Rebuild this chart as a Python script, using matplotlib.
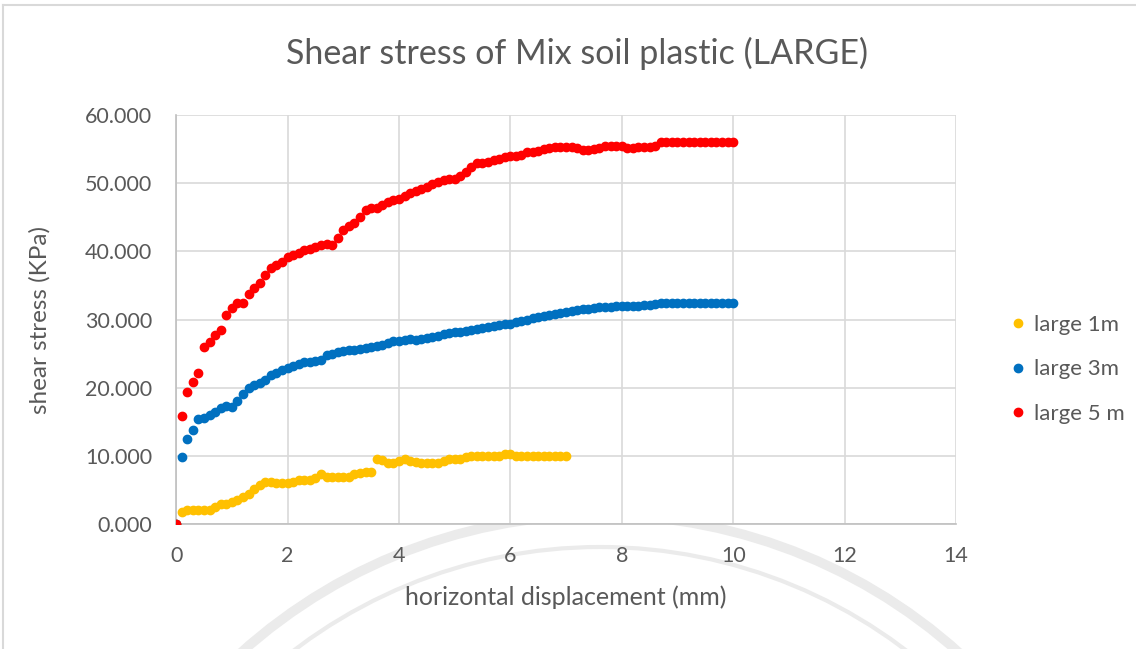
#Shear stress of Mix soil plastic (LARGE)
#direct shear test, 0.1 mm steps

import numpy as np
import matplotlib.pyplot as plt
from matplotlib.patches import Ellipse
from matplotlib.lines import Line2D

plt.rcParams['font.family'] = ['Lato', 'DejaVu Sans']

desloc_5m = np.round(np.arange(0, 10.01, 0.1), 1)
desloc_3m = np.round(np.arange(0, 10.01, 0.1), 1)
desloc_1m = np.round(np.arange(0, 7.01, 0.1), 1)

tensao_5m = [0, 15.9, 19.3, 20.8, 22.1, 25.9, 26.7, 27.7, 28.4, 30.6,
             31.7, 32.4, 32.4, 33.7, 34.6, 35.4, 36.5, 37.5, 38.0, 38.5,
             39.1, 39.4, 39.8, 40.2, 40.3, 40.7, 40.9, 41.1, 41.0, 41.9,
             43.2, 43.7, 44.2, 45.1, 46.0, 46.3, 46.4, 46.8, 47.3, 47.6,
             47.7, 48.1, 48.5, 48.8, 49.2, 49.4, 49.9, 50.2, 50.4, 50.6,
             50.6, 51.0, 51.6, 52.3, 52.9, 53.0, 53.1, 53.4, 53.6, 53.9,
             54.0, 54.0, 54.2, 54.5, 54.6, 54.7, 55.0, 55.2, 55.3, 55.3,
             55.3, 55.3, 55.1, 54.9, 54.9, 55.0, 55.2, 55.4, 55.4, 55.4,
             55.4, 55.2, 55.1, 55.3, 55.3, 55.3, 55.5, 56.1, 56.1, 56.1,
             56.1, 56.1, 56.1, 56.1, 56.1, 56.1, 56.1, 56.1, 56.1, 56.1,
             56.1]

tensao_3m = [0, 9.9, 12.5, 13.8, 15.4, 15.5, 16.0, 16.5, 17.0, 17.3,
             17.2, 18.1, 19.1, 19.9, 20.4, 20.7, 21.1, 21.8, 22.2, 22.6,
             22.9, 23.2, 23.5, 23.8, 23.8, 23.9, 24.1, 24.8, 25.0, 25.2,
             25.4, 25.5, 25.5, 25.6, 25.8, 26.0, 26.1, 26.3, 26.5, 26.8,
             26.9, 27.0, 27.1, 27.0, 27.1, 27.3, 27.5, 27.6, 27.8, 28.0,
             28.1, 28.2, 28.3, 28.4, 28.6, 28.8, 28.9, 29.1, 29.2, 29.3,
             29.4, 29.6, 29.8, 30.0, 30.2, 30.3, 30.5, 30.7, 30.8, 31.0,
             31.1, 31.3, 31.4, 31.5, 31.6, 31.7, 31.8, 31.9, 31.9, 32.0,
             32.0, 32.0, 32.0, 32.0, 32.1, 32.2, 32.3, 32.4, 32.4, 32.4,
             32.4, 32.4, 32.4, 32.4, 32.4, 32.4, 32.4, 32.4, 32.4, 32.4,
             32.4]

tensao_1m = [0, 1.7, 2.05, 2.1, 2.1, 2.1, 2.1, 2.5, 2.9, 3.0,
             3.2, 3.5, 3.9, 4.4, 5.2, 5.7, 6.1, 6.1, 6.0, 6.0,
             6.0, 6.1, 6.4, 6.45, 6.45, 6.8, 7.3, 6.9, 6.85, 6.85,
             6.85, 6.9, 7.3, 7.5, 7.6, 7.7, 9.5, 9.4, 8.9, 9.0,
             9.2, 9.5, 9.3, 9.1, 8.9, 8.9, 8.9, 8.9, 9.2, 9.5,
             9.5, 9.6, 9.8, 10.0, 10.0, 10.0, 10.0, 10.0, 10.0, 10.3,
             10.2, 10.0, 10.0, 10.0, 10.0, 10.0, 10.0, 10.0, 10.0, 10.0,
             10.0]

nomes = ["large 1m", "large 3m", "large 5 m"]
cores = ["#FFC000", "#0070C0", "#FF0000"]

titulo = "Shear stress of Mix soil plastic (LARGE)"
eixox = "horizontal displacement (mm)"
eixoy = "shear stress (KPa)"
cinza = "#595959"

fig = plt.figure(figsize=(11.36, 6.49), dpi=100)
ax = fig.add_axes([0.155, 0.1926, 0.6866, 0.6302])

ax.plot(desloc_1m, tensao_1m, "o", ms=6, color=cores[0], zorder=3)
ax.plot(desloc_3m, tensao_3m, "o", ms=6, color=cores[1], zorder=3)
ax.plot(desloc_5m, tensao_5m, "o", ms=6, color=cores[2], zorder=3)

ax.set_xlim(0, 14)
ax.set_ylim(0, 60)
ax.set_xticks(range(0, 15, 2))
ax.set_yticks(range(0, 61, 10))
ax.set_yticklabels(["%.3f" % v for v in range(0, 61, 10)])
ax.grid(True, color="#d9d9d9", linewidth=1.2)
ax.set_axisbelow(True)
ax.tick_params(length=0, labelsize=15.5, colors=cinza)
ax.tick_params(axis="y", pad=17)
ax.tick_params(axis="x", pad=16)
for lado in ["top", "right"]:
    ax.spines[lado].set_visible(False)
for lado in ["left", "bottom"]:
    ax.spines[lado].set_color("#bfbfbf")
    ax.spines[lado].set_linewidth(1.2)

ax.set_xlabel(eixox, fontsize=18, color=cinza, labelpad=14)
ax.set_ylabel(eixoy, fontsize=17.5, color=cinza, labelpad=25)
fig.text(0.508, 0.918, titulo, ha="center", va="center", fontsize=24.5, color=cinza)

marcas = [Line2D([], [], marker="o", ls="", ms=6, color=c) for c in cores]
fig.legend(marcas, nomes, loc="center left", bbox_to_anchor=(0.867, 0.431),
           frameon=False, fontsize=16, labelcolor=cinza, handletextpad=0.1,
           labelspacing=1.1, handlelength=1.2)

# borda do grafico e marca d'agua no fundo
fig.add_artist(Line2D([0.003, 1], [0.992, 0.992], color="#d9d9d9", lw=1.5))
fig.add_artist(Line2D([0.003, 0.003], [0, 0.992], color="#d9d9d9", lw=1.5))
for raio, lw in [(537, 7), (505, 3)]:
    fig.add_artist(Ellipse((600 / 1136, 1 - 1052 / 649), 2 * raio / 1136, 2 * raio / 649,
                           fill=False, color="#ebebeb", lw=lw, zorder=0))

plt.savefig("out.png", dpi=100)
